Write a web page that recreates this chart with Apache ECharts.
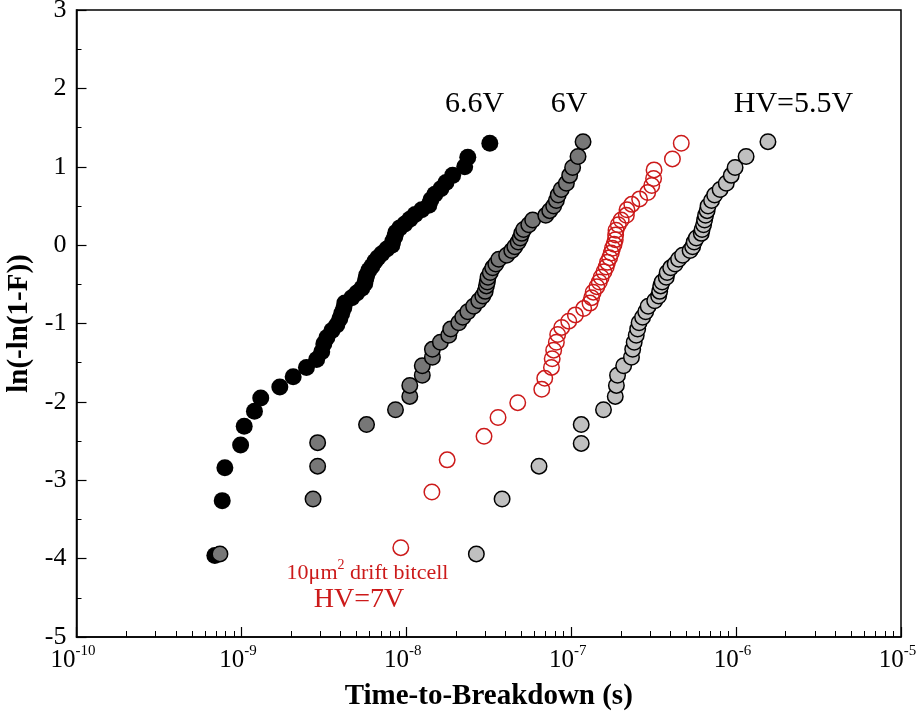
<!DOCTYPE html>
<html><head><meta charset="utf-8">
<script src="https://cdn.jsdelivr.net/npm/echarts@6/dist/echarts.min.js"></script>
<style>html,body{margin:0;padding:0;background:#fff}#c{width:918px;height:718px}</style>
</head><body><div id="c"></div>
<script>
// ---- data (time-to-breakdown in s, Weibull ln(-ln(1-F))) ----
const tickExponents = [-10, -9, -8, -7, -6, -5];
const yTicks = [-5, -4, -3, -2, -1, 0, 1, 2, 3];

// 6.6V (black filled)
const t66 = [6.9e-10,7.65e-10,7.94e-10,9.89e-10,1.04e-9,1.20e-9,1.31e-9,1.71e-9,2.06e-9,2.48e-9,
  2.86e-9,3.07e-9,3.16e-9,3.30e-9,3.54e-9,3.79e-9,3.95e-9,4.06e-9,4.18e-9,4.24e-9,
  4.67e-9,5.01e-9,5.37e-9,5.60e-9,5.68e-9,5.76e-9,5.93e-9,6.18e-9,6.44e-9,6.72e-9,
  7.10e-9,7.62e-9,8.17e-9,8.28e-9,8.52e-9,8.64e-9,9.13e-9,9.79e-9,1.05e-8,1.13e-8,
  1.24e-8,1.37e-8,1.41e-8,1.49e-8,1.62e-8,1.74e-8,1.91e-8,2.26e-8,2.36e-8,3.21e-8];
const f66 = [-3.96,-3.26,-2.84,-2.55,-2.31,-2.12,-1.95,-1.81,-1.68,-1.56,
  -1.46,-1.36,-1.26,-1.18,-1.09,-1.02,-0.94,-0.87,-0.80,-0.74,
  -0.67,-0.61,-0.55,-0.49,-0.43,-0.38,-0.32,-0.27,-0.21,-0.16,
  -0.11,-0.05,0.00,0.05,0.11,0.16,0.22,0.27,0.33,0.39,
  0.45,0.51,0.58,0.65,0.72,0.80,0.89,1.00,1.12,1.30];

// 6V (dark grey)
const t60 = [7.41e-10,2.72e-9,2.90e-9,2.90e-9,5.74e-9,8.60e-9,1.05e-8,1.05e-8,1.25e-8,1.25e-8,
  1.44e-8,1.44e-8,1.61e-8,1.81e-8,1.86e-8,2.08e-8,2.20e-8,2.36e-8,2.56e-8,2.75e-8,
  2.91e-8,3.01e-8,3.06e-8,3.10e-8,3.13e-8,3.23e-8,3.34e-8,3.49e-8,3.64e-8,4.06e-8,
  4.36e-8,4.55e-8,4.77e-8,4.91e-8,5.01e-8,5.15e-8,5.53e-8,5.84e-8,7.01e-8,7.41e-8,
  7.83e-8,8.13e-8,8.34e-8,8.70e-8,9.35e-8,9.79e-8,1.02e-7,1.10e-7,1.18e-7];
const f60 = [-3.94,-3.24,-2.82,-2.52,-2.29,-2.10,-1.93,-1.79,-1.66,-1.54,
  -1.43,-1.33,-1.24,-1.15,-1.07,-0.99,-0.92,-0.85,-0.78,-0.71,
  -0.65,-0.59,-0.52,-0.47,-0.41,-0.35,-0.29,-0.24,-0.18,-0.13,
  -0.07,-0.02,0.04,0.09,0.15,0.20,0.26,0.32,0.38,0.44,
  0.50,0.57,0.64,0.71,0.79,0.89,0.99,1.13,1.32];

// HV=7V, 10um2 drift bitcell (red open)
const t70 = [9.26e-9,1.43e-8,1.77e-8,2.96e-8,3.60e-8,4.74e-8,6.63e-8,6.91e-8,7.59e-8,7.67e-8,
  7.83e-8,8.13e-8,8.28e-8,8.76e-8,9.66e-8,1.06e-7,1.19e-7,1.30e-7,1.33e-7,1.36e-7,
  1.43e-7,1.48e-7,1.52e-7,1.58e-7,1.63e-7,1.66e-7,1.71e-7,1.75e-7,1.78e-7,1.82e-7,
  1.85e-7,1.86e-7,1.87e-7,1.93e-7,2.01e-7,2.16e-7,2.18e-7,2.33e-7,2.60e-7,2.91e-7,
  3.08e-7,3.16e-7,3.18e-7,4.11e-7,4.65e-7];
const f70 = [-3.86,-3.15,-2.74,-2.44,-2.20,-2.01,-1.84,-1.70,-1.56,-1.45,
  -1.34,-1.24,-1.14,-1.05,-0.97,-0.89,-0.81,-0.74,-0.67,-0.60,
  -0.53,-0.47,-0.41,-0.34,-0.28,-0.22,-0.16,-0.10,-0.04,0.01,
  0.07,0.13,0.19,0.26,0.32,0.38,0.45,0.52,0.59,0.67,
  0.76,0.85,0.96,1.10,1.30];

// HV=5.5V (light grey)
const t55 = [2.66e-8,3.81e-8,6.38e-8,1.15e-7,1.15e-7,1.57e-7,1.85e-7,1.88e-7,1.91e-7,2.08e-7,
  2.32e-7,2.36e-7,2.41e-7,2.48e-7,2.53e-7,2.58e-7,2.71e-7,2.83e-7,2.93e-7,3.21e-7,
  3.39e-7,3.44e-7,3.49e-7,3.56e-7,3.77e-7,3.82e-7,4.01e-7,4.27e-7,4.48e-7,4.74e-7,
  5.26e-7,5.45e-7,5.57e-7,5.74e-7,6.15e-7,6.22e-7,6.35e-7,6.44e-7,6.53e-7,6.67e-7,
  6.76e-7,7.10e-7,7.41e-7,8.00e-7,8.72e-7,9.35e-7,9.86e-7,1.15e-6,1.56e-6];
const f55 = [-3.94,-3.24,-2.82,-2.53,-2.29,-2.10,-1.93,-1.79,-1.66,-1.54,
  -1.43,-1.33,-1.24,-1.15,-1.07,-0.99,-0.92,-0.85,-0.78,-0.71,
  -0.65,-0.59,-0.52,-0.47,-0.41,-0.35,-0.29,-0.24,-0.18,-0.13,
  -0.07,-0.02,0.04,0.09,0.15,0.20,0.26,0.32,0.38,0.44,
  0.50,0.57,0.64,0.71,0.79,0.89,0.99,1.13,1.32];

const labels = ['6.6V', '6V', 'HV=5.5V', '10μm', '2', ' drift bitcell', 'HV=7V'];
const xTitle = 'Time-to-Breakdown (s)';
const yTitle = 'ln(-ln(1-F))';

// ---- chart ----
const serif = 'Liberation Serif';
const red = '#cc1a1a';
const zip = (t, f) => t.map((v, i) => [v, f[i]]);
const minorExps = [];
for (let d = tickExponents[0]; d < tickExponents[tickExponents.length - 1]; d++) {
  for (let m = 2; m <= 9; m++) minorExps.push(d + Math.log10(m));
}
const chart = echarts.init(document.getElementById('c'), null, {renderer: 'canvas'});
const option = {
  animation: false,
  backgroundColor: '#fff',
  grid: {left: 76.5, right: 17, top: 10, bottom: 81, show: true, borderColor: '#000', borderWidth: 1.5,
         containLabel: false, outerBoundsMode: 'none'},
  xAxis: [
    {type: 'log', logBase: 10, min: 1e-10, max: 1e-5, axisLine: {show: false}, axisTick: {show: false},
     axisLabel: {show: false}, splitLine: {show: false}},
    {type: 'value', min: tickExponents[0], max: tickExponents[tickExponents.length - 1], interval: 1,
     position: 'bottom',
     axisLine: {show: true, lineStyle: {color: '#000', width: 1.5}},
     axisTick: {inside: true, length: 10, lineStyle: {color: '#000', width: 1.2}},
     axisLabel: {margin: 7, color: '#000', hideOverlap: false, padding: [0, 7, 0, 0],
       formatter: v => '{b|10}{s|' + v + '}',
       rich: {b: {fontFamily: serif, fontSize: 25, color: '#000', lineHeight: 29, verticalAlign: 'bottom'},
              s: {fontFamily: serif, fontSize: 15, color: '#000', verticalAlign: 'top'}}},
     splitLine: {show: false},
     name: xTitle, nameLocation: 'middle', nameGap: 45,
     nameTextStyle: {fontFamily: serif, fontWeight: 'bold', fontSize: 29, color: '#000'}},
    {type: 'value', min: tickExponents[0], max: tickExponents[tickExponents.length - 1],
     position: 'bottom', axisLine: {show: false},
     axisTick: {inside: true, length: 6, customValues: minorExps, lineStyle: {color: '#000', width: 1}},
     axisLabel: {show: false}, splitLine: {show: false}}
  ],
  yAxis: {type: 'value', min: yTicks[0], max: yTicks[yTicks.length - 1], interval: 1,
    axisLine: {show: true, lineStyle: {color: '#000', width: 1.5}},
    axisTick: {inside: true, length: 10, lineStyle: {color: '#000', width: 1.2}},
    minorTick: {show: true, splitNumber: 2, length: 5, lineStyle: {color: '#000', width: 1}},
    axisLabel: {margin: 10, fontFamily: serif, fontSize: 26, color: '#000'},
    splitLine: {show: false},
    name: yTitle, nameLocation: 'middle', nameGap: 40,
    nameTextStyle: {fontFamily: serif, fontWeight: 'bold', fontSize: 29, color: '#000'}},
  series: [
    {type: 'scatter', xAxisIndex: 0, data: zip(t66, f66), symbol: 'circle', symbolSize: 17,
     itemStyle: {color: '#000', borderColor: '#000', borderWidth: 0, opacity: 1}},
    {type: 'scatter', xAxisIndex: 0, data: zip(t60, f60), symbol: 'circle', symbolSize: 15.5,
     itemStyle: {color: '#777777', borderColor: '#000', borderWidth: 1.5, opacity: 1}},
    {type: 'scatter', xAxisIndex: 0, data: zip(t70, f70), symbol: 'circle', symbolSize: 15.5,
     itemStyle: {color: 'rgba(0,0,0,0)', borderColor: red, borderWidth: 1.5, opacity: 1}},
    {type: 'scatter', xAxisIndex: 0, data: zip(t55, f55), symbol: 'circle', symbolSize: 15.5,
     itemStyle: {color: '#c0c0c0', borderColor: '#000', borderWidth: 1.5, opacity: 1}}
  ],
  graphic: [
    {type: 'text', x: 474.5, y: 104, style: {text: labels[0], font: '30px "Liberation Serif"', fill: '#000', align: 'center', verticalAlign: 'middle'}},
    {type: 'text', x: 569, y: 104, style: {text: labels[1], font: '30px "Liberation Serif"', fill: '#000', align: 'center', verticalAlign: 'middle'}},
    {type: 'text', x: 793.5, y: 104, style: {text: labels[2], font: '30px "Liberation Serif"', fill: '#000', align: 'center', verticalAlign: 'middle'}},
    {type: 'text', x: 367.5, y: 571, style: {
      text: '{a|' + labels[3] + '}{s|' + labels[4] + '}{a|' + labels[5] + '}',
      rich: {a: {fontFamily: serif, fontSize: 22, fill: red, lineHeight: 26, verticalAlign: 'bottom'},
             s: {fontFamily: serif, fontSize: 14, fill: red, verticalAlign: 'top'}},
      align: 'center', verticalAlign: 'middle'}},
    {type: 'text', x: 359, y: 600, style: {text: labels[6], font: '28px "Liberation Serif"', fill: red, align: 'center', verticalAlign: 'middle'}}
  ]
};
chart.setOption(option);
</script></body></html>
